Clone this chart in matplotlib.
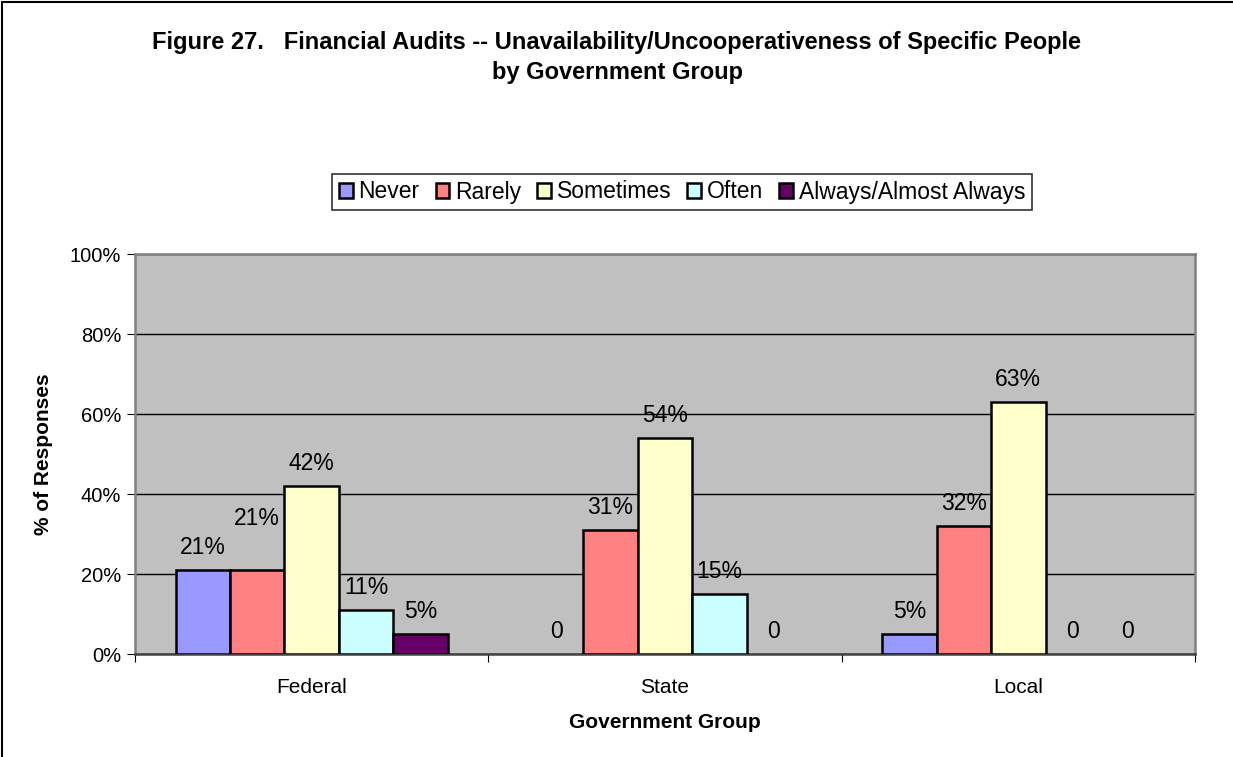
import matplotlib
matplotlib.use("Agg")
import matplotlib.pyplot as plt
import matplotlib.patches as patches
import numpy as np

plt.rcParams['font.family'] = ['Liberation Sans', 'DejaVu Sans']

groups = ["Federal", "State", "Local"]
series = ["Never", "Rarely", "Sometimes", "Often", "Always/Almost Always"]
never = [21, 0, 5]
rarely = [21, 31, 32]
sometimes = [42, 54, 63]
often = [11, 15, 0]
always = [5, 0, 0]
colors = ["#9999FF", "#FF8080", "#FFFFCC", "#CCFFFF", "#660066"]
yticks = [0, 20, 40, 60, 80, 100]

values = [never, rarely, sometimes, often, always]

fig = plt.figure(figsize=(12.33, 7.57), dpi=100)
W, H = 1233, 757
ax = fig.add_axes([135 / W, 1 - 654 / H, (1195 - 135) / W, (654 - 254) / H])
ax.set_facecolor("#C0C0C0")

x = np.arange(len(groups))
bw = 0.154
for i, (name, vals) in enumerate(zip(series, values)):
    pos = x + (i - 2) * bw
    lw = [1.8 if v > 0 else 0 for v in vals]
    ax.bar(pos, vals, bw, color=colors[i], edgecolor="black", linewidth=lw,
           label=name, zorder=3)
    for j, (px, v) in enumerate(zip(pos, vals)):
        extra = 21 if (i == 1 and j == 0) else 0
        ax.annotate("0" if v == 0 else f"{v}%", (px, v), xytext=(0, 8 + extra),
                    textcoords="offset points", ha="center", va="bottom",
                    fontsize=16.5, zorder=4)

ax.set_xlim(-0.5, 2.5)
ax.set_ylim(0, 100)
ax.set_yticks(yticks)
ax.set_yticklabels([f"{t}%" for t in yticks], fontsize=14.5)
ax.yaxis.grid(True, color="black", linewidth=1, zorder=1)
ax.set_axisbelow(True)

ax.set_xticks([-0.5, 0.5, 1.5, 2.5])
ax.set_xticklabels([])
ax.set_xticks(x, minor=True)
ax.set_xticklabels(groups, minor=True, fontsize=15)
ax.tick_params(axis="x", which="minor", length=0, pad=17)
ax.tick_params(axis="x", which="major", length=6, direction="out", color="black")
ax.tick_params(axis="y", length=6, direction="out", color="black", pad=4)

for side in ["top", "right", "left"]:
    ax.spines[side].set_color("#808080")
    ax.spines[side].set_linewidth(1.8)
ax.spines["bottom"].set_color("#404040")
ax.spines["bottom"].set_linewidth(1.8)

ax.set_ylabel("% of Responses", fontsize=15, fontweight="bold", labelpad=12)
ax.set_xlabel("Government Group", fontsize=15, fontweight="bold", labelpad=12)

fig.text(617 / W, 1 - 43 / H,
         "Figure 27.   Financial Audits -- Unavailability/Uncooperativeness of Specific People",
         ha="center", va="center", fontsize=17, fontweight="bold")
fig.text(617 / W, 1 - 73 / H, "by Government Group",
         ha="center", va="center", fontsize=17, fontweight="bold")

leg = fig.legend(loc="center", bbox_to_anchor=(682 / W, 1 - 192 / H), ncol=5,
                 fontsize=16.5, frameon=True, fancybox=False, edgecolor="black",
                 handlelength=0.6, handleheight=0.6, handletextpad=0.25,
                 columnspacing=0.7, borderpad=0.3)
leg.get_frame().set_linewidth(1.2)

# outer chart border
fig.patches.append(patches.Rectangle((2 / W, -0.1), 1.2, 1 - 2 / H + 0.1,
                                     transform=fig.transFigure, fill=False,
                                     edgecolor="black", linewidth=1.5))

fig.savefig("out.png", dpi=100)
